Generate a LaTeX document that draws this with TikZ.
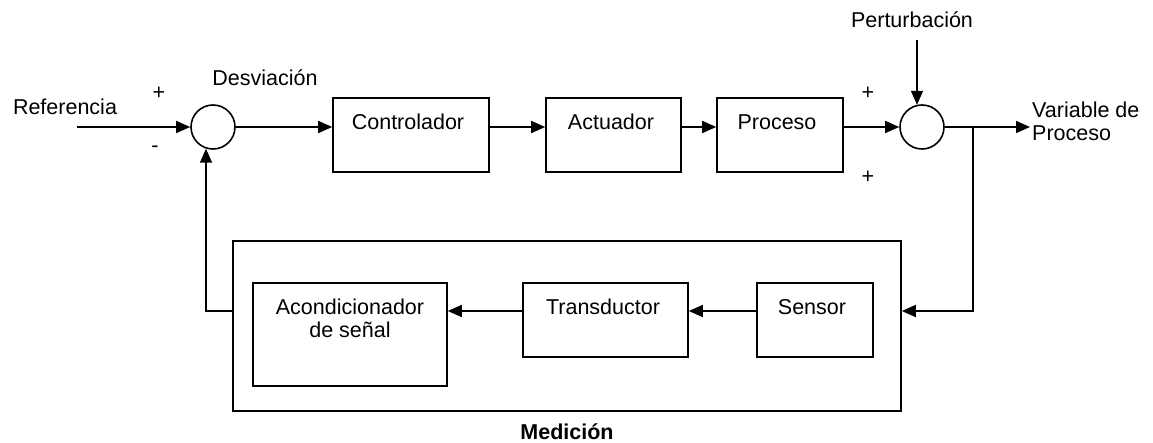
\documentclass[tikz,border=0pt]{standalone}
\usepackage{fontspec}
\setmainfont{Liberation Sans}
\usetikzlibrary{arrows.meta,positioning}
\tikzset{
  txt/.style={inner sep=0pt,font=\fontsize{21.5}{23}\selectfont},
  blk/.style={draw,line width=1.6pt,inner sep=0pt},
  sumc/.style={draw,circle,line width=1.6pt,minimum size=44pt,inner sep=0pt},
  conn/.style={line width=1.6pt},
  arr/.style={conn,-{Triangle[length=14pt,width=12pt]}}
}
\begin{document}
\begin{tikzpicture}[x=1pt,y=-1pt]
\useasboundingbox (0,0) rectangle (1153,443);
% summing junctions
\node[sumc] (sumL) at (213,127) {};
\node[sumc] (sumR) at (922,127) {};
% forward blocks
\node[blk,minimum width=156pt,minimum height=74pt] (ctrl) at (411,135) {};
\node[blk,minimum width=135pt,minimum height=74pt] (act) at (613.5,135) {};
\node[blk,minimum width=126pt,minimum height=74pt] (proc) at (780,135) {};
\node[txt] (tctrl) at (408,122) {Controlador};
\node[txt] (tact) at (611,122) {Actuador};
\node[txt] (tproc) at (777,122) {Proceso};
% measurement
\node[blk,minimum width=668pt,minimum height=170pt] (meas) at (567,326) {};
\node[blk,minimum width=194pt,minimum height=103pt] (acond) at (350,334.5) {};
\node[blk,minimum width=165pt,minimum height=74pt] (trans) at (605.5,320) {};
\node[blk,minimum width=116pt,minimum height=74pt] (sens) at (815,320) {};
\node[txt,align=center] (tacond) at (350,318) {Acondicionador\\de señal};
\node[txt] (ttrans) at (603,307) {Transductor};
\node[txt] (tsens) at (812,307) {Sensor};
\node[txt,font=\fontsize{21.5}{23}\selectfont\bfseries] (tmeas) at (567,432) {Medición};
% labels
\node[txt] (tref) at (65,107) {Referencia};
\node[txt] (tdesv) at (265,78) {Desviación};
\node[txt] (tpert) at (912,20) {Perturbación};
\node[txt,align=left,anchor=west] (tvar) at (1032,121) {Variable de\\Proceso};
\node[txt] (pl1) at (159,93) {+};
\node[txt] (mi1) at (155,149) {-};
\node[txt] (pl2) at (868,93) {+};
\node[txt] (pl3) at (868,177) {+};
% coordinates
\coordinate (refin) at (77,127);
\coordinate (pertin) at (917,40);
\coordinate (out) at (1030,127);
\coordinate (br) at (973,127);
\coordinate (fbR) at (973,311);
\coordinate (fbL) at (206,311);
% connectors
\draw[arr] (refin) -- (sumL.west);
\draw[arr] (sumL.east) -- (sumL.east -| ctrl.west);
\draw[arr] (ctrl.east |- sumL) -- (act.west |- sumL);
\draw[arr] (act.east |- sumL) -- (proc.west |- sumL);
\draw[arr] (proc.east |- sumR) -- (sumR.west);
\draw[arr] (pertin) -- (pertin |- sumR.103);
\draw[arr] (sumR.east) -- (out);
\draw[arr] (br) -- (fbR) -- (fbR -| meas.east);
\draw[arr] (sens.west |- fbR) -- (trans.east |- fbR);
\draw[arr] (trans.west |- fbR) -- (acond.east |- fbR);
\draw[arr] (meas.west |- fbL) -- (fbL) -- (fbL |- sumL.-108.5);
\end{tikzpicture}
\end{document}
